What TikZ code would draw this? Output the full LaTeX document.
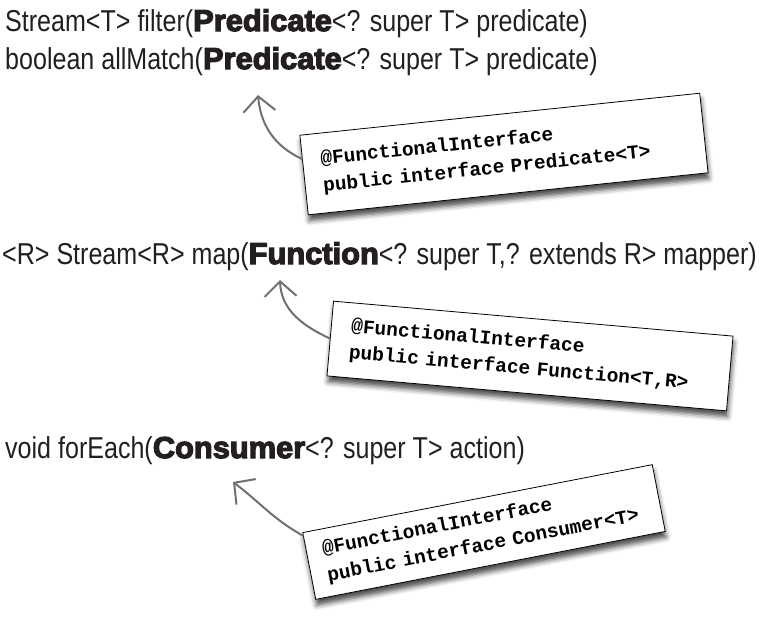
\documentclass[tikz,border=0pt]{standalone}
\usepackage{fontspec}
\newfontfamily\sigfont[FakeStretch=0.83]{Liberation Sans}
\newfontfamily\heavyfont{Liberation Sans}[UprightFont={* Bold},FakeBold=4,FakeStretch=1.02]
\newfontfamily\cardfont{Liberation Mono}
\usepackage{xcolor}
\usepackage{tikz}
\usetikzlibrary {positioning}
\usetikzlibrary{arrows.meta,calc,shadows.blur}
\definecolor{pointergray}{RGB}{112,112,112}
\definecolor{inkblack}{RGB}{35,31,32}
\tikzset{pointer/.style = {-{Straight Barb[length=15pt,width=32pt]},draw=pointergray,line width=2pt,line cap=round}}
\newcommand{\hv}[1]{{\heavyfont #1}}

\begin{document}
\begin{tikzpicture}[x=1pt,y=1pt,
    sig/.style={anchor=base west,inner sep=0pt,text=inkblack,font=\sigfont\fontsize{30.2}{36}\selectfont},
    card/.style={draw=black,line width=0.8pt,fill=white,align=left,text=black,font=\cardfont\bfseries\fontsize{19.5}{27}\selectfont,
      blur shadow={shadow xshift=1pt,shadow yshift=-6pt,shadow blur radius=5pt,shadow opacity=70}}]
                \useasboundingbox (0,0) rectangle (763,-622);

                % method signatures
                \node[sig] (filter) at (5,-31) {Stream<T> filter(\hv{Predicate}<? super T> predicate)};
                \node[sig] (allMatch) at (5,-69) {boolean allMatch(\hv{Predicate}<? super T> predicate)};
                \node[sig] (map) at (2,-264) {<R> Stream<R> map(\hv{Function}<? super T,? extends R> mapper)};
                \node[sig] (forEach) at (5,-458) {void forEach(\hv{Consumer}<? super T> action)};

                % interface cards
                \node[card,rotate=6,text width=366pt,inner xsep=18pt,minimum height=80pt] (pred) at (504,-154) {@FunctionalInterface\\public interface Predicate<T>};
                \node[card,rotate=-5,text width=361pt,inner xsep=20pt,minimum height=75pt] (func) at (530,-356) {@FunctionalInterface\\public interface Function<T,R>};
                \node[card,rotate=11,text width=324pt,inner xsep=16pt,minimum height=68pt] (cons) at (484,-532) {@FunctionalInterface\\public interface Consumer<T>};

                \coordinate (predTip) at (258,-95);
                \coordinate (funcTip) at (280,-280);
                \coordinate (consTip) at (233,-482);

                \path
                    ($(pred.north west)!0.3!(pred.south west)$) edge[pointer,out=155,in=-85] (predTip)
                    (func.west) edge[pointer,out=155,in=-88] (funcTip)
                    ($(cons.north west)!0.05!(cons.south west)$) edge[pointer,out=151,in=-37] (consTip)
                    ;
            \end{tikzpicture}
\end{document}
